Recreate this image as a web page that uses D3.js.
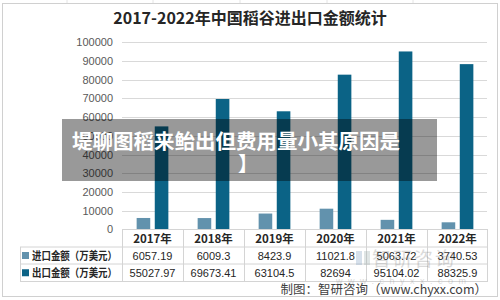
<!DOCTYPE html>
<html><head><meta charset="utf-8">
<script src="https://cdn.jsdelivr.net/npm/d3@7"></script>
<style>body{margin:0;background:#fff}svg{display:block}</style>
</head><body>
<svg id="c" width="500" height="300"></svg>
<script>
const years = ["2017年","2018年","2019年","2020年","2021年","2022年"];
const importVals = [6057.19, 6009.3, 8423.9, 11021.8, 5063.72, 3740.53];
const exportVals = [55027.97, 69673.41, 63104.5, 82694, 95104.02, 88325.9];
const importLabels = ["6057.19","6009.3","8423.9","11021.8","5063.72","3740.53"];
const exportLabels = ["55027.97","69673.41","63104.5","82694","95104.02","88325.9"];
const seriesNames = ["进口金额（万美元）","出口金额（万美元）"];
const yTicks = [0,10000,20000,30000,40000,50000,60000,70000,80000,90000,100000];
const title = "2017-2022年中国稻谷进出口金额统计";
const bannerText = "堤聊图稻来鲐出但费用量小其原因是";

const colors = ["#6292ad", "#0b6386"];
const cjk = "'Noto Sans CJK SC','Noto Sans',sans-serif";
const num = "'Liberation Sans','Noto Sans CJK SC',sans-serif";

const svg = d3.select("#c");
const sheet = svg.append("g");
[67,153,240,327,413].forEach(x=>sheet.append("line").attr("x1",x).attr("x2",x).attr("y1",0).attr("y2",3).attr("stroke","#e4e4e4"));
svg.append("rect").attr("x",2.5).attr("y",3.5).attr("width",495).attr("height",293).attr("fill","#fff").attr("stroke","#d0d0d0");

svg.append("text").attr("x",250).attr("y",24).attr("text-anchor","middle")
  .attr("font-family",cjk).attr("font-weight","bold").attr("font-size",16).attr("fill","#262626").text(title);

const x = d3.scaleBand().domain(years).range([122,488]);
const y = d3.scaleLinear().domain([0,100000]).range([229.3,42.3]);
const xs = d3.scaleBand().domain([0,1]).range([x.bandwidth()*0.24, x.bandwidth()*0.76]).paddingInner(0.25);

svg.append("g").selectAll("line").data(yTicks).join("line")
  .attr("x1",122).attr("x2",487).attr("y1",d=>Math.round(y(d))+0.5).attr("y2",d=>Math.round(y(d))+0.5)
  .attr("stroke","#d9d9d9");
const yAxis = d3.axisLeft(y).tickValues(yTicks).tickSize(0).tickPadding(0).tickFormat(d3.format("d"));
const ga = svg.append("g").attr("transform","translate(113,0)").call(yAxis);
ga.select(".domain").remove();
ga.selectAll("text").attr("font-family",num).attr("font-size",11).attr("fill","#595959");

const series = [importVals, exportVals];
series.forEach((vals,si)=>{
  svg.append("g").selectAll("rect").data(vals).join("rect")
    .attr("x",(d,i)=>x(years[i])+xs(si)).attr("width",xs.bandwidth())
    .attr("y",d=>y(d)).attr("height",d=>y(0)-y(d)).attr("fill",colors[si]);
});

const tb = svg.append("g");
const rowY = [229.5, 247, 264, 281.5];
const lc = "#d4d4d4";
tb.append("line").attr("x1",122).attr("x2",488).attr("y1",rowY[0]).attr("y2",rowY[0]).attr("stroke",lc);
[1,2,3].forEach(r=>tb.append("line").attr("x1",20).attr("x2",488).attr("y1",rowY[r]).attr("y2",rowY[r]).attr("stroke",lc));
tb.append("line").attr("x1",20.5).attr("x2",20.5).attr("y1",rowY[1]).attr("y2",rowY[3]).attr("stroke",lc);
years.forEach(yr=>{
  const xx = Math.round(x(yr))+0.5;
  tb.append("line").attr("x1",xx).attr("x2",xx).attr("y1",rowY[0]).attr("y2",rowY[3]).attr("stroke",lc);
});
tb.append("line").attr("x1",487.5).attr("x2",487.5).attr("y1",rowY[0]).attr("y2",rowY[3]).attr("stroke",lc);

tb.selectAll("text.yr").data(years).join("text").attr("class","yr")
  .attr("x",d=>x(d)+x.bandwidth()/2).attr("y",243).attr("text-anchor","middle")
  .attr("font-family",cjk).attr("font-weight","bold").attr("font-size",11.5).attr("fill","#262626").text(d=>d);
[importLabels, exportLabels].forEach((labs,si)=>{
  const cy = (rowY[si+1]+rowY[si+2])/2;
  tb.append("g").selectAll("text").data(labs).join("text")
    .attr("x",(d,i)=>x(years[i])+x.bandwidth()/2).attr("y",cy+4).attr("text-anchor","middle")
    .attr("font-family",num).attr("font-size",11).attr("fill","#262626").text(d=>d);
  tb.append("rect").attr("x",22).attr("y",cy-3.5).attr("width",7).attr("height",7).attr("fill",colors[si]);
  tb.append("text").attr("x",32).attr("y",cy+4.5).attr("font-family",cjk).attr("font-weight","bold")
    .attr("font-size",11).attr("textLength",85).attr("lengthAdjust","spacingAndGlyphs")
    .attr("fill","#262626").text(seriesNames[si]);
});

const wm = svg.append("g").attr("opacity",0.3);
wm.append("rect").attr("x",356).attr("y",251).attr("width",6).attr("height",14).attr("fill","#7a9cc0");
wm.append("rect").attr("x",364).attr("y",251).attr("width",6).attr("height",14).attr("fill","#9aa");
wm.append("text").attr("x",372).attr("y",266).attr("font-family",cjk).attr("font-size",19).attr("fill","#888").attr("letter-spacing",2).text("智研咨询");
wm.append("text").attr("x",336).attr("y",284).attr("font-family",num).attr("font-size",9).attr("fill","#888").attr("letter-spacing",5.5).text("www.chyxx.com");

svg.append("text").attr("x",487).attr("y",294).attr("text-anchor","end")
  .attr("font-family",cjk).attr("font-size",12.5).attr("fill","#404040").text("制图：智研咨询（www.chyxx.com）");

svg.append("rect").attr("x",62).attr("y",119).attr("width",375).attr("height",62).attr("fill","#000").attr("opacity",0.4);
svg.append("text").attr("x",72).attr("y",149).attr("font-family",cjk).attr("font-weight","bold")
  .attr("font-size",20.5).attr("fill","#fff").text(bannerText);
svg.append("text").attr("x",238).attr("y",171).attr("font-family",cjk).attr("font-weight","bold")
  .attr("font-size",20).attr("fill","#fff").text("】");
</script>
</body></html>
